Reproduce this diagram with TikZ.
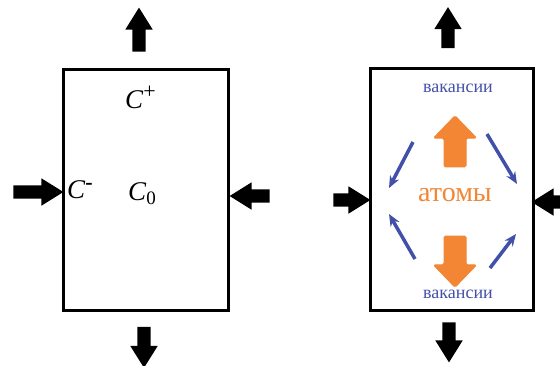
\documentclass[tikz,border=0pt]{standalone}
\usepackage{fontspec}
\setmainfont{Liberation Serif}
\usepackage{xcolor}
\usetikzlibrary{positioning,arrows.meta,shapes.arrows}
\definecolor{vacblue}{RGB}{66,80,170}
\definecolor{atomorange}{RGB}{242,134,52}
\begin{document}
\begin{tikzpicture}[
    x=1pt, y=-1pt,
    frame/.style={draw, line width=3pt},
    blk/.style={single arrow, fill=black, draw=none, inner xsep=0pt, inner ysep=6.5pt, single arrow head extend=7pt, single arrow tip angle=64},
    blkv/.style={blk, inner xsep=6.5pt, inner ysep=0pt},
    atm/.style={single arrow, fill=atomorange, draw=atomorange, line width=1pt, rounded corners=1.5pt, inner xsep=10.5pt, inner ysep=0pt, minimum height=51pt, single arrow head extend=10.5pt, single arrow tip angle=88},
    vac/.style={-{Stealth[length=12pt,width=10pt]}, line width=3.5pt, draw=vacblue},
    cname/.style={inner sep=0pt, anchor=base west, font=\fontsize{27}{27}\selectfont},
    vtext/.style={inner sep=0pt, anchor=base, text=vacblue, font=\fontsize{18}{18}\selectfont}
]
\clip (0,0) rectangle (560,365);

\node[frame, minimum width=165pt, minimum height=241pt, inner sep=0pt] (boxL) at (145.5,189.5) {};
\node[frame, minimum width=163pt, minimum height=242pt, inner sep=0pt] (boxR) at (451.5,189) {};

\node[blkv, shape border rotate=90, minimum height=44pt] (upL) at (139,35) {};
\node[blkv, shape border rotate=270, minimum height=41pt] (dnL) at (144,342) {};
\node[blk, minimum height=50pt] (inL) at (33,192) {};
\node[blk, shape border rotate=180, minimum height=40pt] (inR) at (255,196) {};

\node[blkv, shape border rotate=90, minimum height=41pt] (upR) at (448,33) {};
\node[blkv, shape border rotate=270, minimum height=40pt] (dnR) at (449,337) {};
\node[blk, minimum height=37pt] (inL2) at (346.5,200) {};
\node[blk, shape border rotate=180, minimum height=40pt] (inR2) at (557,202) {};

\node[cname] (cplus) at (125,108) {\textit{C}\raisebox{10pt}{\fontsize{22}{22}\selectfont +}};
\node[cname] (cminus) at (67,198) {\textit{C}\raisebox{9pt}{\fontsize{22}{22}\selectfont\bfseries -}};
\node[cname] (czero) at (128,200) {\textit{C}\raisebox{-4pt}{\fontsize{19}{19}\selectfont 0}};

\node[vtext] (vacT) at (458,92) {вакансии};
\node[atm, shape border rotate=90] (atUp) at (455,147) {};
\node[inner sep=0pt, anchor=base, text=atomorange, font=\fontsize{28}{28}\selectfont] (atoms) at (455,201) {атомы};
\node[atm, shape border rotate=270] (atDn) at (455,256) {};
\node[vtext] (vacB) at (458,298) {вакансии};

\coordinate (a1) at (413,142);
\coordinate (a2) at (389,188);
\coordinate (b1) at (487,134);
\coordinate (b2) at (517,184);
\coordinate (c1) at (415,259);
\coordinate (c2) at (389,214);
\coordinate (d1) at (490,268);
\coordinate (d2) at (516,234);
\draw[vac] (a1) -- (a2);
\draw[vac] (b1) -- (b2);
\draw[vac] (c1) -- (c2);
\draw[vac] (d1) -- (d2);
\end{tikzpicture}
\end{document}
